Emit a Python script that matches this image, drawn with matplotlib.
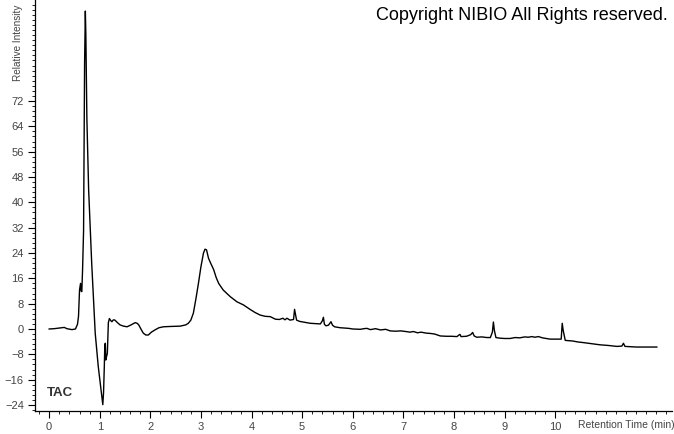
import matplotlib
matplotlib.use("Agg")
import matplotlib.pyplot as plt
from matplotlib.ticker import MultipleLocator

# retention time (min) and relative intensity
rt = [0.0, 0.1, 0.25, 0.3, 0.35, 0.45, 0.52, 0.56, 0.58, 0.60, 0.62, 0.63, 0.645,
      0.66, 0.68, 0.70, 0.715, 0.725, 0.745, 0.78, 0.84, 0.91, 0.97, 1.04, 1.06,
      1.075, 1.09, 1.10, 1.11, 1.12, 1.13, 1.15, 1.17, 1.19, 1.22, 1.24, 1.27,
      1.30, 1.35, 1.40, 1.47, 1.54, 1.62, 1.70, 1.74, 1.77, 1.82, 1.86, 1.91,
      1.96, 2.02, 2.09, 2.17, 2.26, 2.4, 2.59, 2.70, 2.75, 2.80, 2.85, 2.90,
      2.95, 3.00, 3.05, 3.08, 3.11, 3.15, 3.2, 3.25, 3.30, 3.35, 3.44, 3.58,
      3.71, 3.84, 3.97, 4.07, 4.17, 4.27, 4.37, 4.47, 4.55, 4.62, 4.66, 4.70,
      4.76, 4.83, 4.85, 4.875, 4.89, 4.95, 5.02, 5.10, 5.16, 5.25, 5.36, 5.40,
      5.42, 5.44, 5.47, 5.52, 5.57, 5.60, 5.64, 5.75, 5.85, 5.92, 6.0, 6.15,
      6.22, 6.28, 6.35, 6.45, 6.55, 6.65, 6.74, 6.85, 6.95, 7.05, 7.13, 7.2,
      7.28, 7.35, 7.45, 7.53, 7.62, 7.73, 7.85, 7.95, 8.06, 8.10, 8.12, 8.14,
      8.25, 8.33, 8.37, 8.40, 8.45, 8.55, 8.65, 8.72, 8.76, 8.78, 8.80, 8.83,
      8.91, 9.0, 9.11, 9.21, 9.3, 9.4, 9.47, 9.54, 9.6, 9.67, 9.75, 9.9, 10.0,
      10.12, 10.14, 10.16, 10.2, 10.35, 10.45, 10.56, 10.7, 10.89, 11.05, 11.22,
      11.32, 11.35, 11.38, 11.5, 11.61, 11.8, 12.01]
intensity = [0.0, 0.1, 0.4, 0.5, 0.1, -0.2, 0.0, 1.5, 4, 12.3, 14.4, 12, 11.8,
             18.6, 31, 83.6, 100.4, 93, 66.7, 44, 21, -1.3, -11.8, -21.3, -23.9,
             -20, -11.8, -5, -4.5, -9.8, -9, -7.7, 2, 3.3, 2.6, 2.3, 2.9,
             2.8, 2.0, 1.3, 0.9, 0.7, 1.3, 2.0, 1.8, 1.3, -0.2, -1.3, -1.9,
             -1.9, -1.0, -0.3, 0.4, 0.7, 0.8, 0.9, 1.3, 1.8, 2.8, 5, 9.5,
             14.4, 19.7, 24.0, 25.2, 25.0, 22.3, 20.5, 18.8, 16.3, 14.4, 12.3, 10.2,
             8.6, 7.6, 6.2, 5.2, 4.4, 4.0, 3.9, 3.1, 3.0, 3.4, 2.9, 3.4,
             2.8, 3.0, 6.2, 4.0, 2.8, 2.4, 2.2, 2.0, 1.8, 1.7, 1.6, 2.6,
             3.7, 1.5, 1.0, 1.2, 2.3, 1.2, 0.7, 0.4, 0.3, 0.2, 0.0, -0.1,
             0.1, 0.2, -0.2, 0.1, -0.3, -0.1, -0.6, -0.7, -0.6, -0.8, -1.0, -0.8,
             -1.2, -1.0, -1.3, -1.4, -1.6, -2.2, -2.3, -2.3, -2.4, -1.9, -1.7, -2.4,
             -2.3, -1.8, -1.1, -2.2, -2.6, -2.5, -2.7, -2.7, -1.0, 2.2, -0.5, -2.7,
             -2.9, -3.0, -3.0, -2.7, -2.8, -2.5, -2.6, -2.4, -2.6, -2.4, -2.8, -3.2, -3.2,
             -3.2, 1.8, -0.5, -3.6, -3.8, -4.1, -4.3, -4.6, -5.0, -5.2, -5.5,
             -5.4, -4.5, -5.5, -5.6, -5.7, -5.7, -5.7]

x_ticks = list(range(0, 11))
y_ticks = [-24, -16, -8, 0, 8, 16, 24, 32, 40, 48, 56, 64, 72]

plt.rcParams['font.family'] = ['Liberation Sans', 'DejaVu Sans']

fig = plt.figure(figsize=(6.74, 4.34), dpi=100)
ax = fig.add_axes([35 / 674, 23 / 434, 637 / 674, 411 / 434])
ax.plot(rt, intensity, color='black', lw=1.0)

ax.set_xlim(-0.28, 12.31)
ax.set_ylim(-25.9, 103.9)
for s in ('top', 'right'):
    ax.spines[s].set_visible(False)
for s in ('left', 'bottom'):
    ax.spines[s].set_linewidth(0.9)

ax.set_xticks(x_ticks)
ax.set_yticks(y_ticks)
ax.xaxis.set_minor_locator(MultipleLocator(0.2))
ax.yaxis.set_minor_locator(MultipleLocator(1.6))
ax.tick_params(which='major', direction='out', length=5, width=0.8,
               labelsize=8, labelcolor='#444444', pad=3)
ax.tick_params(which='minor', direction='out', length=2.5, width=0.6)

fig.text(578 / 674, 4 / 434, 'Retention Time (min)', ha='left', va='bottom',
         fontsize=7.5, color='#444444')
fig.text(18 / 674, (434 - 81) / 434, 'Relative Intensity', rotation=90,
         ha='center', va='bottom', fontsize=7.2, color='#444444')
ax.text(47 / 674, (434 - 393) / 434, 'TAC', transform=fig.transFigure,
        ha='left', va='center', fontsize=9.5, fontweight='bold', color='#333333')
fig.text(668 / 674, (434 - 15) / 434, 'Copyright NIBIO All Rights reserved.',
         ha='right', va='center', fontsize=13, color='black')

fig.savefig('out.png', dpi=100)
